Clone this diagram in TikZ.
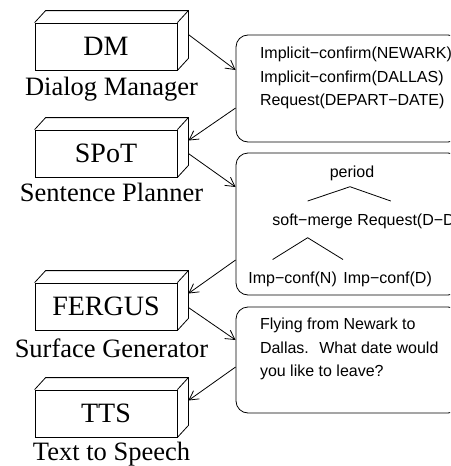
\documentclass[tikz,border=0pt]{standalone}
\usepackage{fontspec}
\setmainfont{Liberation Serif}
\setsansfont{Liberation Sans}
\usetikzlibrary{positioning,arrows.meta,calc}

\begin{document}
\begin{tikzpicture}[
      x=1pt, y=-1pt,
      >={Straight Barb[length=9pt,width=10pt]},
      line width=0.8pt,
      module/.style={draw,minimum width=142pt,minimum height=47pt,inner sep=0pt,font=\fontsize{28}{30}\selectfont},
      caption/.style={inner sep=0pt,font=\fontsize{26.5}{28}\selectfont},
      bubble/.style={draw,rounded corners=12pt,minimum width=224pt,inner sep=0pt},
      msg/.style={inner sep=0pt,align=left,font=\sffamily\fontsize{16}{23.5}\selectfont},
      tree/.style={inner sep=0pt,font=\sffamily\fontsize{16}{20}\selectfont},
    ]
    \useasboundingbox (0,0) rectangle (450,466);
    \clip (0,0) rectangle (450,466);

    % Modules
    \node[module] (dm) at (106,46.5) {DM};
    \node[module] (spot) at (106,153.5) {SPoT};
    \node[module] (fergus) at (106,306.5) {FERGUS};
    \node[module] (tts) at (106,413.5) {TTS};
    \foreach \n in {dm,spot,fergus,tts}
      \draw (\n.north west) -- ++(11pt,12pt) -- ([shift={(11pt,12pt)}]\n.north east)
            -- ([shift={(11pt,12pt)}]\n.south east) -- (\n.south east)
            (\n.north east) -- ++(11pt,12pt);

    \node[caption, below=6pt of dm.south, xshift=5.5pt] (dmcap) {Dialog Manager};
    \node[caption, below=5pt of spot.south, xshift=5.5pt] (spotcap) {Sentence Planner};
    \node[caption, below=8pt of fergus.south, xshift=5.5pt] (ferguscap) {Surface Generator};
    \node[caption, below=4pt of tts.south, xshift=5.5pt] (ttscap) {Text to Speech};

    % Intermediate results
    \node[bubble, minimum height=107pt] (acts) at (348,88.5) {};
    \node[bubble, minimum height=142pt] (sptree) at (348,224) {};
    \node[bubble, minimum height=106pt] (surf) at (348,360) {};

    \node[msg, anchor=north west] (actstext) at ([xshift=24pt,yshift=-12pt]acts.north west)
      {Implicit−confirm(NEWARK)\\Implicit−confirm(DALLAS)\\Request(DEPART−DATE)};
    \node[msg, anchor=north west] (surftext) at ([xshift=24pt,yshift=-11pt]surf.north west)
      {Flying from Newark to\\Dallas.~ What date would\\you like to leave?};

    \node[tree, anchor=base] (period) at (352,177) {period};
    \node[tree, anchor=base west] (softmerge) at (272,225) {soft−merge};
    \node[tree, anchor=base west] (reqdd) at (357,225) {Request(D−D)};
    \node[tree, anchor=base west] (impn) at (248,283) {Imp−conf(N)};
    \node[tree, anchor=base west] (impd) at (343,283) {Imp−conf(D)};
    \draw ($(softmerge.north)+(-5pt,12pt)$) -- ($(period.south)+(-2pt,-6pt)$)
          -- ($(reqdd.north)+(-18pt,12pt)$);
    \draw ($(impn.north)+(-20pt,11.5pt)$) -- ($(softmerge.south)+(-5pt,-9pt)$)
          -- ($(impd.north west)+(0pt,11.5pt)$);

    % Arrows
    \draw[->] ([xshift=11pt,yshift=12pt]dm.east) -- ([yshift=18.5pt]acts.west);
    \draw[->] ([yshift=-19.5pt]acts.west) -- ([xshift=11pt,yshift=13pt]spot.east);
    \draw[->] ([xshift=11pt]spot.east) -- ([yshift=37pt]sptree.west);
    \draw[->] ([yshift=-36pt]sptree.west) -- ([xshift=11pt,yshift=13pt]fergus.east);
    \draw[->] ([xshift=11pt,yshift=-1pt]fergus.east) -- ([yshift=20pt]surf.west);
    \draw[->] ([yshift=-7pt]surf.west) -- ([xshift=11pt,yshift=13pt]tts.east);
  \end{tikzpicture}
\end{document}
